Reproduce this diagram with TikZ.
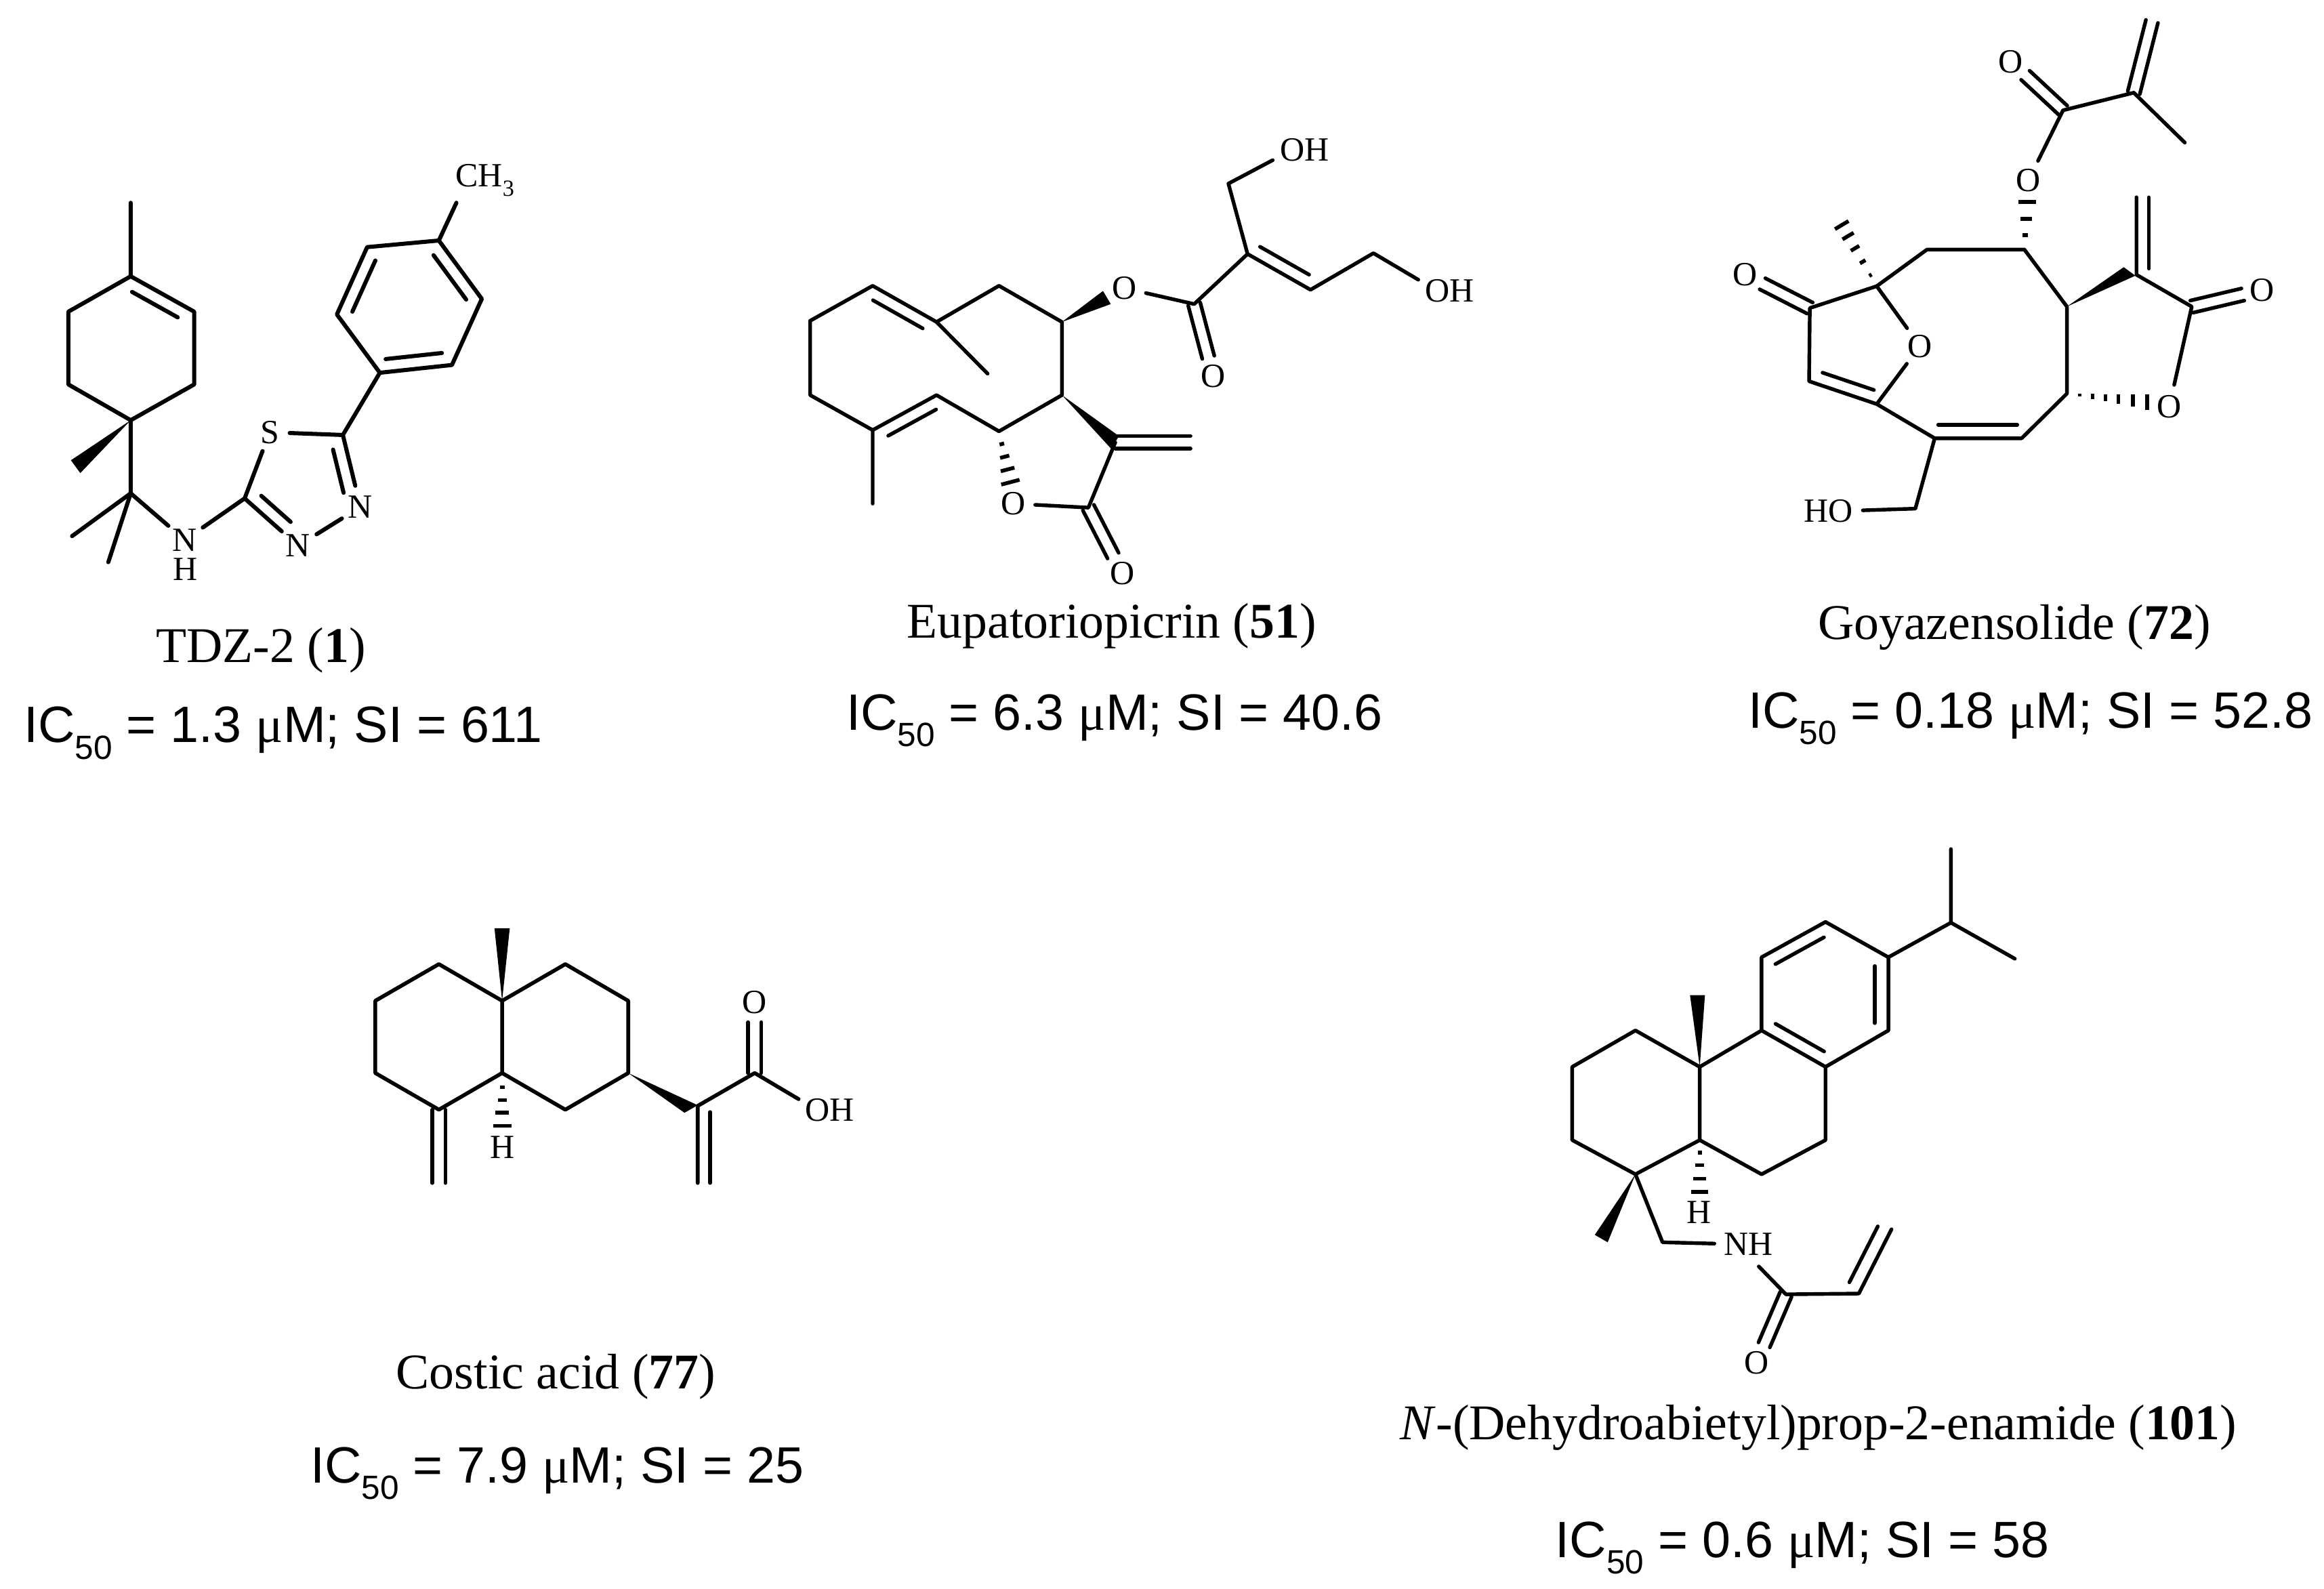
\documentclass[tikz,border=0pt]{standalone}
\usepackage{fontspec}
\setmainfont{Liberation Serif}
\setsansfont{Liberation Sans}
\usetikzlibrary{calc}
\tikzset{
  bond/.style={line width=1.3pt,line cap=round,line join=round},
  atom/.style={circle,inner sep=1.2pt,font=\fontsize{12}{13}\selectfont},
  captiontext/.style={anchor=base,inner sep=0pt,font=\fontsize{17.7}{20}\selectfont},
  activity/.style={anchor=base,inner sep=0pt,font=\sffamily\fontsize{18.1}{20}\selectfont},
}
\newcommand{\subs}[1]{\raisebox{-0.32em}{\fontsize{11.9}{12}\selectfont #1}}
\newcommand{\atomsub}[1]{\raisebox{-0.28em}{\fontsize{8.2}{9}\selectfont #1}}
\newcommand{\ic}[1]{IC\subs{50} = #1}
\newcommand{\ibond}[6]{\draw[bond] ($(#1)!#5!(#2)!#3!#4:(#2)$) -- ($(#1)!#6!(#2)!#3!#4:(#2)$);}
\newcommand{\symb}[4]{%
  \draw[bond,shorten >=#4] ($(#1)!#3!90:(#2)$) -- ($(#2)!#3!-90:(#1)$);
  \draw[bond,shorten >=#4] ($(#1)!#3!-90:(#2)$) -- ($(#2)!#3!90:(#1)$);}
\newcommand{\wedgeb}[3]{\fill (#1) -- (#2) -- (#3) -- cycle;}
\newcommand{\hashb}[4]{\foreach \f in {#4}{\draw[line width=1.35pt] ($(#1)!\f!(#2)$) -- ($(#1)!\f!(#3)$);}}
\begin{document}
\begin{tikzpicture}[x=0.525pt,y=-0.525pt]
\path[use as bounding box] (0,0) rectangle (1568,1071.6);

% ---------- TDZ-2 ----------
\begin{scope}[shift={(0,100.6)},x=0.1323pt,y=-0.13776pt]
\foreach \n/\p in {am/{350,138},a1/{350,327},a2/{520,418},a3/{520,605},a4/{350,697},a5/{183,605},a6/{183,418},
  ac/{350,885},am1/{193,995},am2/{290,1062},t1/{655,898},t2/{918,735},
  p1/{1017,575},p2/{1210,555},p3/{1290,385},p4/{1175,235},p5/{983,252},p6/{902,425}}
  {\coordinate (\n) at (\p);}
\node[atom] (NHa) at (495,1005) {N};
\node[atom] (Ha) at (497,1080) {H};
\node[atom] (Sa) at (722,728) {S};
\node[atom] (N4) at (965,920) {N};
\node[atom] (N3) at (798,1020) {N};
\node[atom] (CH3) at (1250,80) {C\rlap{H\atomsub{3}}};
\draw[bond,line width=1.45pt] (am)--(a1)--(a2)--(a3)--(a4)--(a5)--(a6)--(a1) (a4)--(ac) (ac)--(am1) (ac)--(am2) (ac)--(NHa) (NHa)--(t1)--(Sa)--(t2)--(N4)--(N3)--(t1) (t2)--(p1)--(p2)--(p3)--(p4)--(p5)--(p6)--(p1) (p4)--(CH3);
\begin{scope}[bond/.append style={line width=1.45pt}]
\ibond{a1}{a2}{4.6pt}{-90}{.12}{.84}
\ibond{p1}{p2}{4.6pt}{90}{.1}{.88}
\ibond{p3}{p4}{4.6pt}{90}{.12}{.88}
\ibond{p5}{p6}{4.6pt}{90}{.12}{.88}
\ibond{t2}{N4}{4.6pt}{-90}{.16}{.76}
\ibond{t1}{N3}{4.6pt}{90}{.15}{.7}
\end{scope}
\wedgeb{a4}{190,800}{215,833}
\end{scope}
\node[captiontext] (cap1) at (176,447) {TDZ-2 (\textbf{1})};
\node[activity] (ic1) at (191,501) {\ic{1.3 {\rmfamily μ}M; SI = 611}};

% ---------- Eupatoriopicrin ----------
\begin{scope}[shift={(525.7,82.3)},x=0.16154pt,y=-0.14081pt]
\foreach \n/\p in {b1/{68,500},b2/{205,412},b3/{345,503},b4/{482,412},b5/{620,503},b6/{620,687},b7/{482,778},b8/{345,687},b9/{205,775},b10/{68,687},
  bm1/{457,633},bm2/{205,960},bc/{910,458},bd/{1027,332},be/{1165,422},bf/{985,155},bg/{1303,330},bh/{737,806},bi/{678,970},bj/{902,806}}
  {\coordinate (\n) at (\p);}
\node[atom] (Oe) at (757,418) {O};
\node[atom] (Oc) at (952,640) {O};
\node[atom] (OHb) at (1125,70) {O\rlap{H}};
\node[atom] (OHc) at (1443,425) {O\rlap{H}};
\node[atom] (Or) at (513,960) {O};
\node[atom] (Ok) at (752,1135) {O};
\draw[bond] (b1)--(b2)--(b3)--(b4)--(b5)--(b6)--(b7)--(b8)--(b9)--(b10)--(b1) (b3)--(bm1) (b9)--(bm2) (Oe)--(bc)--(bd)--(be)--(bg)--(OHc) (bd)--(bf)--(OHb) (bh)--(bi)--(Or);
\ibond{b2}{b3}{4.4pt}{-90}{.1}{.88}
\ibond{b8}{b9}{4.4pt}{90}{.1}{.85}
\ibond{bd}{be}{4.4pt}{90}{.1}{.88}
\symb{bc}{Oc}{2.2pt}{7pt}
\symb{bh}{bj}{2.2pt}{0pt}
\symb{bi}{Ok}{2.2pt}{7pt}
\wedgeb{b5}{710,425}{727,458}
\wedgeb{b6}{745,790}{728,822}
\hashb{b7}{487,912}{527,900}{.25,.5,.75,1}
\end{scope}
\node[captiontext] (cap2) at (750,430.5) {Eupatoriopicrin (\textbf{51})};
\node[activity] (ic2) at (752,492.5) {\ic{6.3 {\rmfamily μ}M; SI = 40.6}};

% ---------- Goyazensolide ----------
\begin{scope}[shift={(1161.1,0)},x=0.13692pt,y=-0.16837pt]
\foreach \n/\p in {c1/{1068,195},c1t/{1115,45},cm/{1200,300},c2/{885,232},r1/{785,525},r2/{533,525},r3/{403,602},r4/{230,648},r5/{228,802},r6/{403,850},r7/{553,922},r8/{778,922},r9/{895,828},r10/{895,645},c3/{1075,578},c3t/{1075,415},c4/{1218,645},r11/{503,1070}}
  {\coordinate (\n) at (\p);}
\node[atom] (O1g) at (750,130) {O};
\node[atom] (O2g) at (795,380) {O};
\node[atom] (O3g) at (62,578) {O};
\node[atom] (O4g) at (515,728) {O};
\node[atom] (O5g) at (1400,610) {O};
\node[atom] (O6g) at (1160,855) {O};
\node[atom] (HOg) at (310,1075) {\llap{H}O};
\draw[bond] (c1)--(cm) (c1)--(c2)--(O2g) (r1)--(r2)--(r3)--(r4)--(r5)--(r6)--(O4g)--(r3) (r6)--(r7)--(r8)--(r9)--(r10)--(r1) (c3)--(c3t) (c3)--(c4)--(O6g) (r7)--(r11)--(HOg);
\symb{c1}{c1t}{2.2pt}{0pt}
\symb{c2}{O1g}{2.2pt}{7pt}
\symb{r4}{O3g}{2.2pt}{7pt}
\symb{c4}{O5g}{2.2pt}{7pt}
\ibond{c3t}{c3}{4.4pt}{90}{.001}{.92}
\ibond{r5}{r6}{4.4pt}{90}{.14}{.9}
\ibond{r7}{r8}{4.8pt}{90}{.04}{.95}
\wedgeb{r10}{1042,562}{1072,580}
\hashb{r1}{770,425}{815,425}{.3,.65,1}
\hashb{r3}{295,482}{330,465}{.18,.4,.62,.82,1}
\hashb{r9}{1103,862}{1103,830}{.16,.32,.48,.64,.82,1}
\end{scope}
\node[captiontext] (cap3) at (1359,431.5) {Goyazensolide (\textbf{72})};
\node[activity] (ic3) at (1370,491) {\ic{0.18 {\rmfamily μ}M; SI = 52.8}};

% ---------- Costic acid ----------
\begin{scope}[shift={(228.6,608)},x=0.12306pt,y=-0.12243pt]
\foreach \n/\p in {d1/{470,288},d2/{288,182},d3/{105,288},d4/{105,497},d5/{288,603},d6/{470,497},d7/{652,182},d8/{833,288},d9/{833,497},d10/{652,603},dt/{288,815},e1/{1033,592},e1t/{1033,815},e2/{1197,497}}
  {\coordinate (\n) at (\p);}
\node[atom] (Hd) at (470,712) {H};
\node[atom] (Oa) at (1197,293) {O};
\node[atom] (OHa) at (1378,605) {O\rlap{H}};
\draw[bond,line width=1.35pt] (d1)--(d2)--(d3)--(d4)--(d5)--(d6)--(d1) (d1)--(d7)--(d8)--(d9)--(d10)--(d6) (e1)--(e1t) (e1)--(e2)--(OHa);
\begin{scope}[bond/.append style={line width=1.35pt}]
\symb{d5}{dt}{2.3pt}{0pt}
\symb{e2}{Oa}{2.3pt}{7pt}
\ibond{e1t}{e1}{4.4pt}{-90}{.001}{.92}
\end{scope}
\wedgeb{d1}{448,78}{492,78}
\wedgeb{d9}{995,612}{1033,590}
\hashb{d6}{445,650}{497,650}{.27,.51,.75,1}
\end{scope}
\node[captiontext] (cap4) at (375,936.8) {Costic acid (\textbf{77})};
\node[activity] (ic4) at (376,1000.5) {\ic{7.9 {\rmfamily μ}M; SI = 25}};

% ---------- N-(Dehydroabietyl)prop-2-enamide ----------
\begin{scope}[shift={(1033.1,562.3)},x=0.12306pt,y=-0.13162pt]
\foreach \n/\p in {f1/{485,628},f2/{300,530},f3/{118,628},f4/{118,825},f5/{300,917},f6/{485,825},f7/{663,530},f8/{847,628},f9/{847,825},f10/{663,917},f11/{663,333},f12/{847,238},f13/{1028,333},f14/{1028,530},g1/{1208,240},gm1/{1208,42},gm2/{1392,337},g2/{378,1100},g3/{733,1240},g4/{943,1238},g5/{1037,1065},nhend/{655,1165}}
  {\coordinate (\n) at (\p);}
\node[atom] (Hf) at (483,1020) {H};
\node[atom] (NHf) at (590,1105) {N\rlap{H}};
\node[atom] (Of) at (648,1425) {O};
\draw[bond] (f1)--(f2)--(f3)--(f4)--(f5)--(f6)--(f1) (f1)--(f7)--(f8)--(f9)--(f10)--(f6) (f7)--(f11)--(f12)--(f13)--(f14)--(f8) (f13)--(g1)--(gm1) (g1)--(gm2) (f5)--(g2)--(NHf) (nhend)--(g3)--(g4)--(g5);
\ibond{f7}{f8}{4.5pt}{90}{.12}{.88}
\ibond{f11}{f12}{4.5pt}{-90}{.12}{.88}
\ibond{f13}{f14}{4.8pt}{-90}{.12}{.9}
\ibond{g4}{g5}{4.8pt}{90}{.08}{.95}
\symb{g3}{Of}{2.2pt}{7pt}
\wedgeb{f1}{457,435}{500,435}
\wedgeb{f5}{183,1080}{220,1100}
\hashb{f6}{460,965}{510,965}{.24,.48,.74,1}
\end{scope}
\node[captiontext] (cap5) at (1227,971) {\textit{N}-(Dehydroabietyl)prop-2-enamide (\textbf{101})};
\node[activity] (ic5) at (1216,1050.5) {\ic{0.6 {\rmfamily μ}M; SI = 58}};
\end{tikzpicture}
\end{document}
